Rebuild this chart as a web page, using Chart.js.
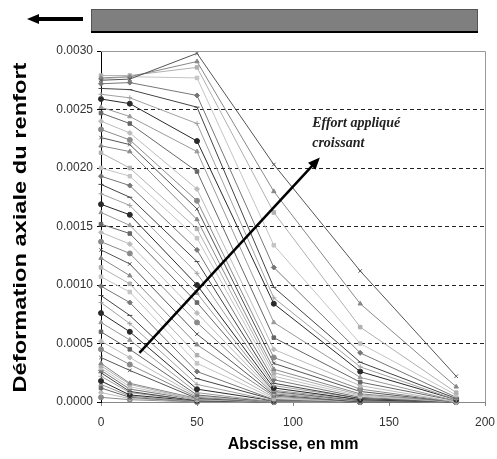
<!DOCTYPE html>
<html>
<head>
<meta charset="utf-8">
<script src="https://cdn.jsdelivr.net/npm/chart.js@4.4.0/dist/chart.umd.min.js"></script>
<style>
    html, body { margin: 0; padding: 0; background: #fff; }
</style>
</head>
<body>
<canvas id="strainChart" width="497" height="459"></canvas>
<script>
// Positions of the gauges along the reinforcement (mm)
const abscissae = [0, 15, 50, 90, 135, 185];

// One strain profile per load step, highest load first
const profiles = [
    [0.00275, 0.00276, 0.00298, 0.00203, 0.00112, 0.00022],
    [0.00277, 0.00278, 0.00291, 0.00180, 0.00084, 0.00013],
    [0.00279, 0.00279, 0.00286, 0.00162, 0.00064, 0.00008],
    [0.00276, 0.00278, 0.00277, 0.00134, 0.00050, 0.00006],
    [0.00272, 0.00273, 0.00262, 0.00115, 0.00042, 0.00004],
    [0.00268, 0.00267, 0.00252, 0.00098, 0.00034, 0.00003],
    [0.00263, 0.00260, 0.00238, 0.00089, 0.00030, 0.00002],
    [0.00259, 0.00255, 0.00223, 0.00084, 0.00026, 0.00002],
    [0.00252, 0.00244, 0.00214, 0.00068, 0.00021, 0.00001],
    [0.00247, 0.00238, 0.00197, 0.00055, 0.00017, 0.00001],
    [0.00240, 0.00230, 0.00182, 0.00045, 0.00014, 0.00000],
    [0.00233, 0.00224, 0.00172, 0.00038, 0.00011, 0.00000],
    [0.00226, 0.00220, 0.00165, 0.00033, 0.00009, 0.00000],
    [0.00219, 0.00214, 0.00156, 0.00028, 0.00007, 0.00000],
    [0.00213, 0.00200, 0.00148, 0.00025, 0.00006, 0.00000],
    [0.00200, 0.00193, 0.00140, 0.00022, 0.00005, 0.00000],
    [0.00193, 0.00185, 0.00130, 0.00019, 0.00004, 0.00000],
    [0.00186, 0.00175, 0.00120, 0.00016, 0.00003, 0.00000],
    [0.00178, 0.00168, 0.00110, 0.00014, 0.00003, 0.00000],
    [0.00169, 0.00160, 0.00100, 0.00012, 0.00002, 0.00000],
    [0.00162, 0.00151, 0.00093, 0.00010, 0.00002, 0.00000],
    [0.00152, 0.00144, 0.00085, 0.00009, 0.00001, 0.00000],
    [0.00145, 0.00135, 0.00076, 0.00008, 0.00001, 0.00000],
    [0.00137, 0.00127, 0.00068, 0.00007, 0.00001, 0.00000],
    [0.00130, 0.00118, 0.00058, 0.00006, 0.00000, 0.00000],
    [0.00123, 0.00108, 0.00049, 0.00005, 0.00000, 0.00000],
    [0.00115, 0.00101, 0.00040, 0.00004, 0.00000, 0.00000],
    [0.00107, 0.00094, 0.00033, 0.00003, 0.00000, 0.00000],
    [0.00099, 0.00085, 0.00026, 0.00002, 0.00000, 0.00000],
    [0.00091, 0.00074, 0.00020, 0.00002, 0.00000, 0.00000],
    [0.00085, 0.00067, 0.00015, 0.00001, 0.00000, 0.00000],
    [0.00076, 0.00060, 0.00011, 0.00001, 0.00000, 0.00000],
    [0.00068, 0.00053, 0.00008, 0.00000, 0.00000, 0.00000],
    [0.00060, 0.00045, 0.00006, 0.00000, 0.00000, 0.00000],
    [0.00052, 0.00038, 0.00005, 0.00000, 0.00000, 0.00000],
    [0.00045, 0.00032, 0.00004, 0.00000, 0.00000, 0.00000],
    [0.00038, 0.00027, 0.00003, 0.00000, 0.00000, 0.00000],
    [0.00033, 0.00016, 0.00003, 0.00001, 0.00000, 0.00000],
    [0.00031, 0.00015, 0.00002, 0.00001, 0.00000, 0.00000],
    [0.00029, 0.00013, 0.00002, 0.00000, 0.00000, 0.00000],
    [0.00027, 0.00011, 0.00002, 0.00000, 0.00000, 0.00000],
    [0.00025, 0.00009, 0.00001, 0.00000, 0.00000, 0.00000],
    [0.00022, 0.00008, 0.00001, 0.00000, 0.00000, 0.00000],
    [0.00018, 0.00006, 0.00001, 0.00000, 0.00000, 0.00000],
    [0.00015, 0.00005, 0.00000, 0.00000, 0.00000, 0.00000],
    [0.00012, 0.00004, 0.00000, 0.00000, 0.00000, 0.00000],
    [0.00008, 0.00003, 0.00000, 0.00000, 0.00000, 0.00000],
    [0.00004, 0.00002, 0.00000, 0.00000, 0.00000, 0.00000]
];

// Annotation arrow (data coords) and its label
const arrowFrom = [20, 0.00042];
const arrowTo = [114, 0.00209];
const arrowLabel = ['Effort appliqué', 'croissant'];
const yTitle = 'Déformation axiale du renfort';

const grays = ['#555555', '#888888', '#b0b0b0', '#c4c4c4', '#777777', '#444444', '#a0a0a0', '#2a2a2a', '#999999', '#666666', '#bbbbbb', '#8a8a8a'];
const markers = ['crossRot', 'triangle', 'rect', 'rect', 'rectRot', 'line', 'cross', 'circle', 'triangle', 'rect', 'rectRot', 'circle'];

const datasets = profiles.map((p, i) => ({
    data: abscissae.map((x, j) => ({ x: x, y: p[j] })),
    borderColor: grays[i % grays.length],
    backgroundColor: grays[i % grays.length],
    pointStyle: markers[i % markers.length],
    pointRadius: 2.5,
    pointBorderWidth: 1,
    borderWidth: 1,
    fill: false,
    tension: 0,
    clip: false
}));

const decorations = {
    id: 'decorations',
    afterDatasetsDraw(chart) {
        const { ctx, chartArea, scales } = chart;
        const x0 = scales.x.getPixelForValue(arrowFrom[0]);
        const y0 = scales.y.getPixelForValue(arrowFrom[1]);
        const x1 = scales.x.getPixelForValue(arrowTo[0]);
        const y1 = scales.y.getPixelForValue(arrowTo[1]);
        const ang = Math.atan2(y1 - y0, x1 - x0);
        const head = 13;

        ctx.save();
        // plot frame (top and right)
        ctx.strokeStyle = '#999';
        ctx.lineWidth = 1;
        ctx.beginPath();
        ctx.moveTo(chartArea.left, chartArea.top + 0.5);
        ctx.lineTo(chartArea.right + 0.5, chartArea.top + 0.5);
        ctx.lineTo(chartArea.right + 0.5, chartArea.bottom);
        ctx.stroke();

        // "effort croissant" arrow
        ctx.strokeStyle = '#000';
        ctx.fillStyle = '#000';
        ctx.lineWidth = 2.5;
        ctx.beginPath();
        ctx.moveTo(x0, y0);
        ctx.lineTo(x1 - Math.cos(ang) * head * 0.8, y1 - Math.sin(ang) * head * 0.8);
        ctx.stroke();
        ctx.beginPath();
        ctx.moveTo(x1, y1);
        ctx.lineTo(x1 - head * Math.cos(ang - 0.4), y1 - head * Math.sin(ang - 0.4));
        ctx.lineTo(x1 - head * Math.cos(ang + 0.4), y1 - head * Math.sin(ang + 0.4));
        ctx.closePath();
        ctx.fill();

        ctx.font = 'bold italic 14px "Liberation Serif", "DejaVu Serif", serif';
        ctx.fillStyle = '#222';
        ctx.textAlign = 'left';
        ctx.textBaseline = 'middle';
        ctx.fillText(arrowLabel[0], scales.x.getPixelForValue(110), scales.y.getPixelForValue(0.00238));
        ctx.fillText(arrowLabel[1], scales.x.getPixelForValue(110), scales.y.getPixelForValue(0.00221));

        // y title, stretched along its length like the original
        ctx.font = 'bold 18px "Liberation Sans", Arial, sans-serif';
        ctx.fillStyle = '#000';
        ctx.textAlign = 'center';
        const w = ctx.measureText(yTitle).width;
        ctx.translate(21, (chartArea.top + chartArea.bottom) / 2 + 1);
        ctx.rotate(-Math.PI / 2);
        ctx.scale(330 / w, 1);
        ctx.fillText(yTitle, 0, 0);
        ctx.setTransform(1, 0, 0, 1, 0, 0);

        // reinforcement strip and pull direction above the plot
        ctx.fillStyle = '#7f7f7f';
        ctx.fillRect(91, 9, 387, 23);
        ctx.strokeStyle = '#555';
        ctx.lineWidth = 1;
        ctx.strokeRect(91.5, 9.5, 386, 22);
        ctx.strokeStyle = '#000';
        ctx.lineWidth = 2;
        ctx.beginPath();
        ctx.moveTo(91, 32);
        ctx.lineTo(478, 32);
        ctx.stroke();

        ctx.lineWidth = 4;
        ctx.beginPath();
        ctx.moveTo(83, 19);
        ctx.lineTo(36, 19);
        ctx.stroke();
        ctx.fillStyle = '#000';
        ctx.beginPath();
        ctx.moveTo(27, 19);
        ctx.lineTo(39, 14);
        ctx.lineTo(39, 24);
        ctx.closePath();
        ctx.fill();
        ctx.restore();
    }
};

const ctx = document.getElementById('strainChart').getContext('2d');
new Chart(ctx, {
    type: 'line',
    data: { datasets: datasets },
    options: {
        responsive: false,
        animation: false,
        layout: { padding: { top: 51, right: 12, left: 0, bottom: 0 } },
        plugins: {
            legend: { display: false },
            tooltip: { enabled: false }
        },
        scales: {
            x: {
                type: 'linear',
                min: 0,
                max: 200,
                ticks: {
                    stepSize: 50,
                    color: '#333',
                    font: { family: '"Liberation Sans", Arial', size: 12 },
                    padding: 9
                },
                grid: { drawOnChartArea: false, tickLength: 4, tickColor: '#888' },
                border: { color: '#888', width: 1 },
                title: {
                    display: true,
                    text: 'Abscisse, en mm',
                    color: '#000',
                    font: { family: '"Liberation Sans", Arial', size: 16, weight: 'bold' },
                    padding: { top: 5, bottom: 5 }
                },
                afterFit: (s) => { s.height = 57; s.paddingLeft = 0; s.paddingRight = 0; }
            },
            y: {
                min: 0,
                max: 0.003,
                ticks: {
                    stepSize: 0.0005,
                    color: '#333',
                    font: { family: '"Liberation Sans", Arial', size: 12 },
                    padding: 4,
                    callback: (v) => v.toFixed(4)
                },
                grid: {
                    color: (c) => (c.tick && (c.tick.value <= 0 || c.tick.value >= 0.003)) ? 'rgba(0,0,0,0)' : '#222',
                    tickColor: '#000',
                    tickLength: 4
                },
                border: { color: '#000', width: 1, dash: [4, 3] },
                title: { display: false },
                afterFit: (s) => { s.width = 101; s.paddingTop = 0; s.paddingBottom = 0; }
            }
        }
    },
    plugins: [decorations]
});
</script>
</body>
</html>
